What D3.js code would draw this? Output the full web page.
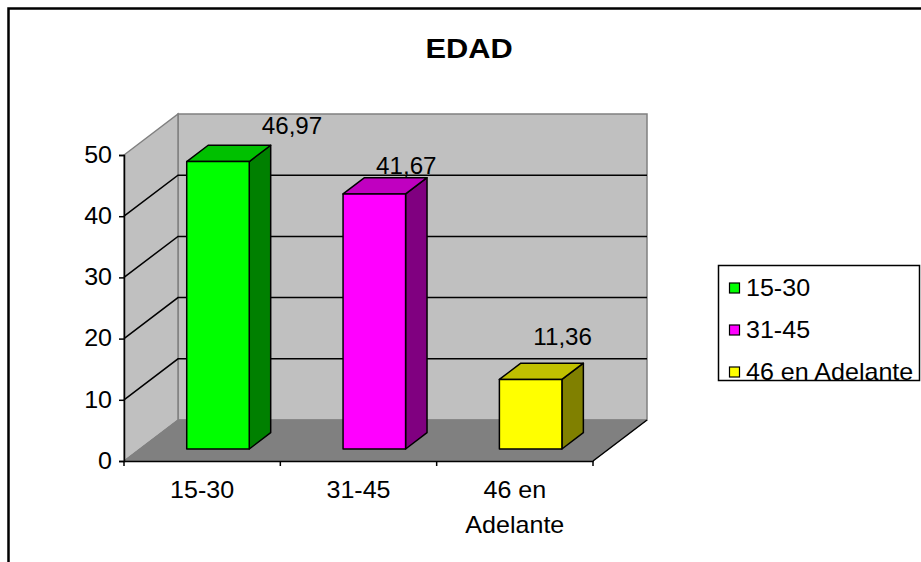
<!DOCTYPE html>
<html>
<head>
<meta charset="utf-8">
<script src="https://cdn.jsdelivr.net/npm/d3@7"></script>
<style>
  html, body { margin: 0; padding: 0; background: #fff; }
  svg { display: block; font-family: "Liberation Sans", Arial, sans-serif; }
</style>
</head>
<body>
<svg id="chart" width="921" height="562"></svg>
<script>
// Data
const categories = ["15-30", "31-45", "46 en Adelante"];
const categoryLines = [["15-30"], ["31-45"], ["46 en", "Adelante"]];
const values = [46.97, 41.67, 11.36];
const valueLabels = ["46,97", "41,67", "11,36"];
const yTicks = [0, 10, 20, 30, 40, 50];
const seriesNames = ["15-30", "31-45", "46 en Adelante"];

// Colours: front, top, side
const frontColors = ["#00ff00", "#ff00ff", "#ffff00"];
const topColors = ["#00c000", "#c000c0", "#c0c000"];
const sideColors = ["#008000", "#800080", "#808000"];

// Layout
const W = 921, H = 562;
const plot = { left: 124, right: 593, bottom: 461, top: 155 };
const DX = 54, DY = -41;          // depth offset of the back wall
const barD0 = 0.293, barD1 = 0.69; // bar depth (front / back) as fraction of wall depth
const labelNudge = [[42, -8], [0, 0], [0, -14]];
const FS = 23, SX = 1.09;          // text size and horizontal stretch

const svg = d3.select("#chart");

// text helper with slight horizontal stretch
function addText(parent, px, py, str, opts = {}) {
  const g = parent.append("g").attr("transform", `translate(${px},${py}) scale(${opts.sx || SX},1)`);
  return g.append("text")
    .attr("x", 0).attr("y", 0)
    .attr("text-anchor", opts.anchor || "middle")
    .attr("font-size", opts.size || FS)
    .attr("font-weight", opts.weight || "normal")
    .attr("fill", "#000")
    .text(str);
}

const y = d3.scaleLinear().domain([0, 50]).range([plot.bottom, plot.top]);
const x = d3.scaleBand().domain(categories).range([plot.left, plot.right]).paddingInner(0).paddingOuter(0);

// project a point (px on front plane, value, depth fraction)
const P = (px, v, d) => [px + DX * d, y(v) + DY * d];
const poly = pts => "M" + pts.map(p => p.join(",")).join("L") + "Z";
const line = pts => "M" + pts.map(p => p.join(",")).join("L");

// Outer frame
svg.append("rect")
  .attr("x", 8.5).attr("y", 8.5)
  .attr("width", W + 20).attr("height", H + 20)
  .attr("fill", "#fff").attr("stroke", "#000").attr("stroke-width", 2.5);

// Title
addText(svg, 469, 58, "EDAD", { size: 28, weight: "bold", sx: 1.1 });

const L = plot.left, R = plot.right;

// Walls and floor
const g = svg.append("g");
g.append("path")
  .attr("d", poly([P(L, 0, 1), P(R, 0, 1), P(R, 50, 1), P(L, 50, 1)]))
  .attr("fill", "#c0c0c0").attr("stroke", "#808080").attr("stroke-width", 1.5);
g.append("path")
  .attr("d", poly([P(L, 0, 0), P(L, 0, 1), P(L, 50, 1), P(L, 50, 0)]))
  .attr("fill", "#c0c0c0").attr("stroke", "#808080").attr("stroke-width", 1.5);
g.append("path")
  .attr("d", poly([P(L, 0, 0), P(R, 0, 0), P(R, 0, 1), P(L, 0, 1)]))
  .attr("fill", "#808080").attr("stroke", "#808080").attr("stroke-width", 1);

// Gridlines on back and left walls
yTicks.filter(t => t > 0 && t < 50).forEach(t => {
  g.append("path")
    .attr("d", line([P(L, t, 0), P(L, t, 1), P(R, t, 1)]))
    .attr("fill", "none").attr("stroke", "#000").attr("stroke-width", 1.5);
});

// Floor right edge
g.append("path")
  .attr("d", line([P(R, 0, 0), P(R, 0, 1)]))
  .attr("stroke", "#000").attr("stroke-width", 1.5);

// Value axis
const axY = svg.append("g").attr("transform", `translate(${L},0)`)
  .call(d3.axisLeft(y).tickValues(yTicks).tickSize(5).tickPadding(6).tickFormat(d3.format("d")));
axY.selectAll("text").attr("font-size", FS).attr("fill", "#000")
  .attr("font-family", "'Liberation Sans', Arial, sans-serif")
  .attr("transform", `scale(${SX},1)`);
axY.selectAll("line, path").attr("stroke", "#000").attr("stroke-width", 1.5);

// Category axis
const axX = svg.append("g").attr("transform", `translate(0,${plot.bottom})`)
  .call(d3.axisBottom(x).tickSize(0).tickFormat(""));
axX.select("path").attr("stroke", "#000").attr("stroke-width", 1.5);
axX.selectAll(".tick").remove();
const bounds = categories.map(c => x(c)).concat([R]);
axX.selectAll("line.cb").data(bounds).enter().append("line")
  .attr("class", "cb")
  .attr("x1", d => d).attr("x2", d => d)
  .attr("y1", 0).attr("y2", 5)
  .attr("stroke", "#000").attr("stroke-width", 1.5);

// Category labels
categories.forEach((c, i) => {
  categoryLines[i].forEach((ln, k) => {
    addText(svg, x(c) + x.bandwidth() / 2, 498 + k * 35, ln);
  });
});

// Bars (3D boxes)
const bw = x.bandwidth() * 0.4;
const bars = svg.append("g");
values.forEach((v, i) => {
  const cx = x(categories[i]) + x.bandwidth() / 2;
  const x0 = cx - bw / 2, x1 = cx + bw / 2;
  bars.append("path")
    .attr("d", poly([P(x1, 0, barD0), P(x1, 0, barD1), P(x1, v, barD1), P(x1, v, barD0)]))
    .attr("fill", sideColors[i]).attr("stroke", "#000").attr("stroke-width", 1.5).attr("stroke-linejoin", "round");
  bars.append("path")
    .attr("d", poly([P(x0, v, barD0), P(x1, v, barD0), P(x1, v, barD1), P(x0, v, barD1)]))
    .attr("fill", topColors[i]).attr("stroke", "#000").attr("stroke-width", 1.5).attr("stroke-linejoin", "round");
  bars.append("path")
    .attr("d", poly([P(x0, 0, barD0), P(x1, 0, barD0), P(x1, v, barD0), P(x0, v, barD0)]))
    .attr("fill", frontColors[i]).attr("stroke", "#000").attr("stroke-width", 1.5).attr("stroke-linejoin", "round");

  const [fx, fy] = P(cx, v, barD0);
  addText(svg, fx + 32 + labelNudge[i][0], fy - 20 + labelNudge[i][1], valueLabels[i], { sx: 1.05 });
});

// Legend
const lg = svg.append("g");
lg.append("rect")
  .attr("x", 718.5).attr("y", 265.5).attr("width", 201).attr("height", 115)
  .attr("fill", "#fff").attr("stroke", "#000").attr("stroke-width", 1.5);
seriesNames.forEach((s, i) => {
  const cy = 288 + i * 42;
  lg.append("rect")
    .attr("x", 729.5).attr("y", cy - 5).attr("width", 10).attr("height", 10)
    .attr("fill", frontColors[i]).attr("stroke", "#000").attr("stroke-width", 1.2);
  addText(lg, 746, cy + 8, s, { anchor: "start" });
});
</script>
</body>
</html>
